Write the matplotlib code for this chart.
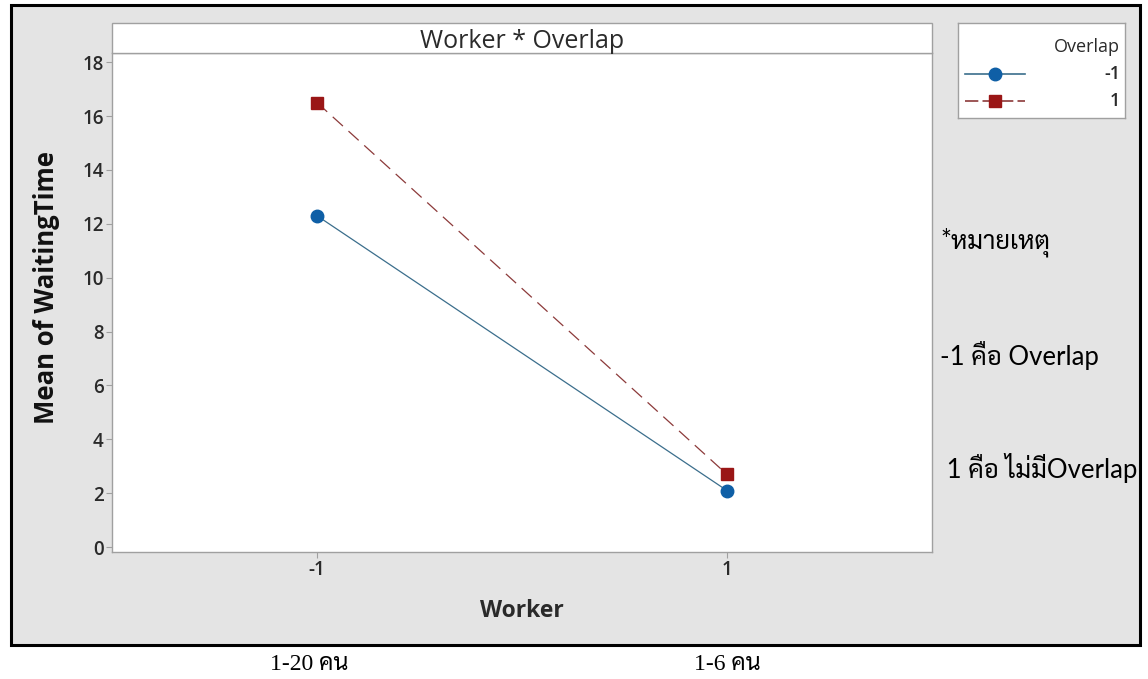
import matplotlib
matplotlib.use("Agg")
import matplotlib.pyplot as plt
from matplotlib import font_manager
from matplotlib.patches import Rectangle

# data
worker = [-1, 1]
overlap_levels = ["-1", "1"]
mean_overlap_neg = [12.3, 2.1]   # Overlap = -1
mean_overlap_pos = [16.5, 2.7]   # Overlap = 1
yticks = [0, 2, 4, 6, 8, 10, 12, 14, 16, 18]
xtick_labels = ["-1", "1"]
group_labels = ["1-20 คน", "1-6 คน"]
notes = ["*หมายเหตุ", "-1 คือ Overlap", " 1 คือ ไม่มีOverlap"]

W, H = 1148, 679

installed = {f.name for f in font_manager.fontManager.ttflist}


def fams(*names):
    out = [n for n in names if n in installed]
    return out + ["DejaVu Sans"]


UI = fams("Open Sans", "Noto Sans")
THAI_SANS = fams("Lato", "Sarabun", "Noto Sans Thai", "Loma")
THAI_SERIF = fams("Liberation Serif", "Norasi", "Sarabun", "Loma")

BLUE_LINE = "#3b6e8c"
BLUE_MARK = "#0f5fa6"
RED_LINE = "#8c3a3a"
RED_MARK = "#9a1616"
GRID_GRAY = "#a0a0a0"
BG = "#e4e4e4"
TXT = "#2a2a2a"

fig = plt.figure(figsize=(W / 100, H / 100), dpi=100)
fig.patch.set_facecolor("white")


def fx(px):
    return px / W


def fy(py):
    return 1 - py / H


# gray panel with black border
fig.add_artist(Rectangle((fx(11), fy(645)), fx(1140 - 11), (645 - 5) / H,
                         transform=fig.transFigure, facecolor=BG,
                         edgecolor="black", linewidth=2.2, zorder=0))

# main axes
ax_l, ax_r, ax_top, ax_bot = 112, 932, 53, 552
ax = fig.add_axes([fx(ax_l), fy(ax_bot), fx(ax_r - ax_l), (ax_bot - ax_top) / H])
ax.set_facecolor("white")
ax.plot(worker, mean_overlap_neg, color=BLUE_LINE, lw=0.9,
        marker="o", markersize=9, markerfacecolor=BLUE_MARK,
        markeredgecolor=BLUE_MARK, zorder=3)
ax.plot(worker, mean_overlap_pos, color=RED_LINE, lw=0.9, dashes=(11, 6),
        marker="s", markersize=9, markerfacecolor=RED_MARK,
        markeredgecolor=RED_MARK, zorder=3)
ax.set_xlim(-2, 2)
ax.set_ylim(-0.18, 18.34)
ax.set_xticks(worker)
ax.set_xticklabels(xtick_labels)
ax.set_yticks(yticks)
for s in ax.spines.values():
    s.set_color(GRID_GRAY)
    s.set_linewidth(1.0)
ax.tick_params(axis="both", direction="out", length=4, width=0.8,
               color=GRID_GRAY, labelsize=13.5, labelcolor=TXT, pad=2)
for lab in ax.get_xticklabels() + ax.get_yticklabels():
    lab.set_family(UI)
    lab.set_fontweight("semibold")
ax.set_ylabel("Mean of WaitingTime", family=UI, fontsize=18.5,
              fontweight="bold", fontstretch="normal", color="#111111")
# centred on plot + title strip, as in the original
ax.yaxis.set_label_coords((60 - ax_l) / (ax_r - ax_l),
                          (ax_bot - 287) / (ax_bot - ax_top))
ax.set_xlabel("Worker", family=UI, fontsize=16.5, fontweight="bold",
              fontstretch="normal", color=TXT)
ax.xaxis.set_label_coords(0.5, -(599 - ax_bot) / (ax_bot - ax_top))

# title strip
fig.add_artist(Rectangle((fx(ax_l), fy(ax_top)), fx(ax_r - ax_l), 30 / H,
                         transform=fig.transFigure, facecolor="white",
                         edgecolor=GRID_GRAY, linewidth=1.0, zorder=1))
fig.text(fx(522), fy(42), "Worker * Overlap", family=UI, fontsize=18,
         ha="center", va="center", color=TXT)

# legend box
lax = fig.add_axes([fx(958), fy(118), fx(1125 - 958), (118 - 23) / H])
lax.set_xlim(0, 1)
lax.set_ylim(0, 1)
lax.set_xticks([])
lax.set_yticks([])
for s in lax.spines.values():
    s.set_color(GRID_GRAY)
    s.set_linewidth(1.0)
lax.text(0.97, 0.75, "Overlap", family=UI, fontsize=13, ha="right",
         va="center", color=TXT)
styles = [
    dict(color=BLUE_LINE, lw=1.2, marker="o", markersize=9,
         markerfacecolor=BLUE_MARK, markeredgecolor=BLUE_MARK),
    dict(color=RED_LINE, lw=1.2, dashes=(8, 2.5), marker="s", markersize=9,
         markerfacecolor=RED_MARK, markeredgecolor=RED_MARK),
]
for i, (lvl, st) in enumerate(zip(overlap_levels, styles)):
    yy = 0.46 - i * 0.28
    lax.plot([0.04, 0.40], [yy, yy], markevery=[], **st)
    lax.plot([0.22], [yy], ls="none", **{k: v for k, v in st.items()
                                         if k not in ("lw", "dashes")})
    lax.text(0.97, yy, lvl, family=UI, fontsize=13, fontweight="semibold",
             ha="right", va="center", color=TXT)

# notes on the right
for txt, py, px in zip(notes, [242, 355, 468], [940, 940, 940]):
    fig.text(fx(px), fy(py), txt, family=THAI_SANS, fontsize=18.5,
             ha="left", va="center", color="black")

# group labels under the x axis
for lab, px in zip(group_labels, [309, 727]):
    fig.text(fx(px), fy(664), lab, family=THAI_SERIF, fontsize=17,
             ha="center", va="center", color="black")

fig.savefig("out.png", dpi=100, facecolor="white")
